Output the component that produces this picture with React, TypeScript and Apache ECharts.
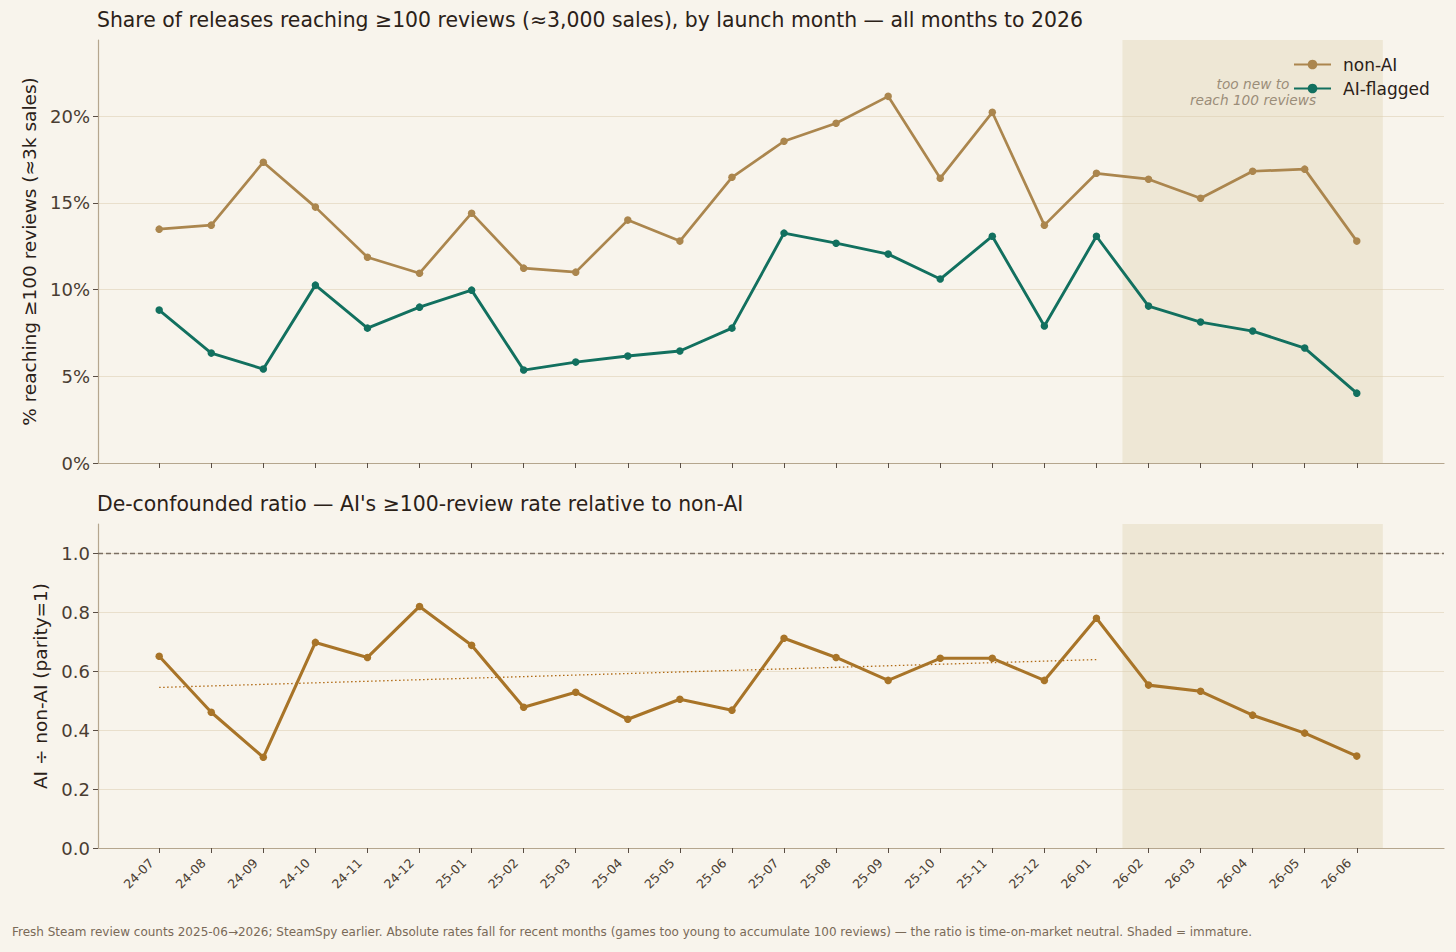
import React, { useEffect, useRef } from "react";
import * as echarts from "echarts";

const months = [
  "24-07", "24-08", "24-09", "24-10", "24-11", "24-12",
  "25-01", "25-02", "25-03", "25-04", "25-05", "25-06",
  "25-07", "25-08", "25-09", "25-10", "25-11", "25-12",
  "26-01", "26-02", "26-03", "26-04", "26-05", "26-06",
];

const nonAI = [
  13.49, 13.72, 17.35, 14.76, 11.87, 10.95,
  14.41, 11.24, 11.01, 14.01, 12.8, 16.48,
  18.56, 19.6, 21.15, 16.43, 20.23, 13.72,
  16.71, 16.37, 15.27, 16.83, 16.95, 12.8,
];

const aiFlagged = [
  8.82, 6.34, 5.42, 10.26, 7.78, 8.99,
  9.97, 5.36, 5.82, 6.17, 6.46, 7.78,
  13.26, 12.68, 12.05, 10.61, 13.08, 7.9,
  13.08, 9.05, 8.13, 7.61, 6.63, 4.03,
];

const ratio = [
  0.651, 0.461, 0.308, 0.698, 0.647, 0.82,
  0.688, 0.478, 0.529, 0.437, 0.505, 0.468,
  0.712, 0.647, 0.569, 0.644, 0.644, 0.569,
  0.78, 0.553, 0.532, 0.451, 0.39, 0.312,
];

const topTicks = [0, 5, 10, 15, 20];
const bottomTicks = [0, 0.2, 0.4, 0.6, 0.8, 1.0];
const matureCount = 19; // months 0..18 are mature
const shadeFrom = 18.5;
const shadeTo = 23.5;

const BG = "#f8f4ec";
const AXIS = "#b5a68e";
const GRID = "#e9dfcc";
const TICKTXT = "#4a3d32";
const TITLE = "#2b2118";
const FONT = "DejaVu Sans";

function linFit(ys: number[]) {
  const n = ys.length;
  const xs = ys.map((_, i) => i);
  const mx = xs.reduce((a, b) => a + b, 0) / n;
  const my = ys.reduce((a, b) => a + b, 0) / n;
  let sxy = 0;
  let sxx = 0;
  for (let i = 0; i < n; i++) {
    sxy += (xs[i] - mx) * (ys[i] - my);
    sxx += (xs[i] - mx) * (xs[i] - mx);
  }
  const b = sxy / sxx;
  const a = my - b * mx;
  return { a, b };
}

export default function App() {
  const ref = useRef<HTMLDivElement>(null);

  useEffect(() => {
    document.body.style.margin = "0";
    document.body.style.background = BG;
    if (!ref.current) return;
    const chart = echarts.init(ref.current, undefined, { renderer: "svg" });

    const idx = months.map((_, i) => i);
    const fit = linFit(ratio.slice(0, matureCount));
    const trend = [
      [0, fit.a],
      [matureCount - 1, fit.a + fit.b * (matureCount - 1)],
    ];

    const xBase = (gridIndex: number, showLabels: boolean) => ({
      type: "value",
      gridIndex,
      min: -1.175,
      max: 24.675,
      axisLine: { show: true, onZero: false, lineStyle: { color: AXIS, width: 1.2 } },
      axisTick: {
        show: true,
        customValues: idx,
        length: 5,
        lineStyle: { color: "#5a4e44", width: 1 },
      },
      axisLabel: {
        show: showLabels,
        customValues: idx,
        rotate: 45,
        margin: 5,
        padding: [0, 11, 0, 0],
        fontSize: 12.5,
        fontFamily: FONT,
        color: TICKTXT,
        formatter: (v: number) => months[Math.round(v)] ?? "",
      },
      splitLine: { show: false },
    });

    const yBase = (gridIndex: number) => ({
      type: "value",
      gridIndex,
      min: 0,
      nameLocation: "middle",
      nameTextStyle: { fontSize: 18.5, color: TITLE, fontFamily: FONT },
      axisLine: { show: true, onZero: false, lineStyle: { color: AXIS, width: 1.2 } },
      splitLine: { show: true, lineStyle: { color: GRID, width: 1 } },
    });

    const shade = {
      silent: true,
      itemStyle: { color: "rgba(222,206,172,0.35)" },
      data: [[{ xAxis: shadeFrom }, { xAxis: shadeTo }]],
    };

    const option: any = {
      animation: false,
      backgroundColor: BG,
      textStyle: { fontFamily: FONT },
      title: [
        {
          text: "Share of releases reaching ≥100 reviews (≈3,000 sales), by launch month — all months to 2026",
          left: 92,
          top: 5,
          textStyle: { fontSize: 20.4, fontWeight: "normal", color: TITLE, fontFamily: FONT },
        },
        {
          text: "De-confounded ratio — AI's ≥100-review rate relative to non-AI",
          left: 92,
          top: 489,
          textStyle: { fontSize: 20.4, fontWeight: "normal", color: TITLE, fontFamily: FONT },
        },
      ],
      legend: {
        orient: "vertical",
        left: 1288,
        top: 51,
        itemWidth: 37,
        itemHeight: 12,
        itemGap: 7,
        data: ["non-AI", "AI-flagged"],
        textStyle: { fontSize: 17, color: TITLE, fontFamily: FONT, padding: [0, 0, 0, 7] },
      },
      grid: [
        { left: 98, right: 12, top: 40, height: 423 },
        { left: 98, right: 12, top: 524, height: 324 },
      ],
      xAxis: [xBase(0, false), xBase(1, true)],
      yAxis: [
        {
          ...yBase(0),
          max: 24.4,
          interval: 5,
          name: "% reaching ≥100 reviews (≈3k sales)",
          nameGap: 58,
          axisTick: { show: true, customValues: topTicks, length: 5, lineStyle: { color: "#5a4e44" } },
          axisLabel: {
            customValues: topTicks,
            fontSize: 18,
            color: TICKTXT,
            fontFamily: FONT,
            margin: 8,
            formatter: (v: number) => `${v}%`,
          },
        },
        {
          ...yBase(1),
          max: 1.1,
          interval: 0.2,
          name: "AI ÷ non-AI (parity=1)",
          nameGap: 47,
          axisTick: { show: true, customValues: bottomTicks, length: 5, lineStyle: { color: "#5a4e44" } },
          axisLabel: {
            customValues: bottomTicks,
            fontSize: 18,
            color: TICKTXT,
            fontFamily: FONT,
            margin: 8,
            formatter: (v: number) => v.toFixed(1),
          },
        },
      ],
      series: [
        {
          name: "non-AI",
          type: "line",
          xAxisIndex: 0,
          yAxisIndex: 0,
          data: nonAI.map((v, i) => [i, v]),
          color: "#ab864e",
          symbol: "circle",
          symbolSize: 7.5,
          lineStyle: { width: 2.7, color: "#ab864e" },
          itemStyle: { color: "#ab864e" },
          markArea: shade,
          z: 3,
        },
        {
          name: "AI-flagged",
          type: "line",
          xAxisIndex: 0,
          yAxisIndex: 0,
          data: aiFlagged.map((v, i) => [i, v]),
          color: "#12705f",
          symbol: "circle",
          symbolSize: 7.5,
          lineStyle: { width: 2.9, color: "#12705f" },
          itemStyle: { color: "#12705f" },
          z: 3,
        },
        {
          name: "ratio",
          type: "line",
          xAxisIndex: 1,
          yAxisIndex: 1,
          data: ratio.map((v, i) => [i, v]),
          symbol: "circle",
          symbolSize: 7.5,
          lineStyle: { width: 3.1, color: "#a87428" },
          itemStyle: { color: "#a87428" },
          markArea: shade,
          markLine: {
            silent: true,
            symbol: "none",
            label: { show: false },
            lineStyle: { type: [5, 3], color: "#7a6e62", width: 1.3 },
            data: [{ yAxis: 1.0 }],
          },
          z: 3,
        },
        {
          name: "trend",
          type: "line",
          xAxisIndex: 1,
          yAxisIndex: 1,
          data: trend,
          symbol: "none",
          lineStyle: { width: 1.3, type: [1.5, 2.5], color: "#b06a14" },
          z: 2,
        },
      ],
      graphic: [
        {
          type: "text",
          x: 1253,
          y: 76,
          style: {
            text: "too new to\nreach 100 reviews",
            textAlign: "center",
            fontSize: 13.7,
            fontStyle: "italic",
            fontFamily: FONT,
            lineHeight: 16,
            fill: "#776a5c",
          },
        },
        {
          type: "text",
          x: 12,
          y: 926,
          style: {
            text:
              "Fresh Steam review counts 2025-06→2026; SteamSpy earlier. Absolute rates fall for recent months (games too young to accumulate 100 reviews) — the ratio is time-on-market neutral. Shaded = immature.",
            fontSize: 12,
            fontFamily: FONT,
            fill: "#7a6a58",
          },
        },
      ],
    };

    chart.setOption(option);
    return () => chart.dispose();
  }, []);

  return <div ref={ref} style={{ width: 1456, height: 952 }} />;
}
